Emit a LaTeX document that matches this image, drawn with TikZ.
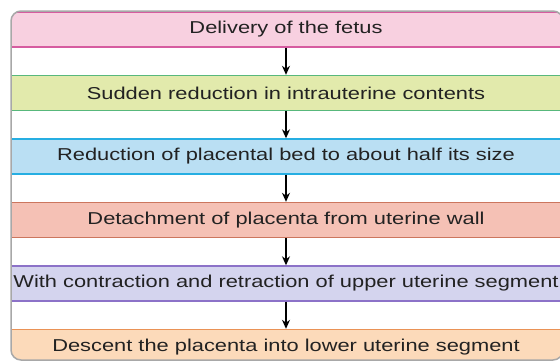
\documentclass[tikz,border=0pt]{standalone}
\usepackage{fontspec}
\setmainfont[FakeStretch=1.27]{Liberation Sans}
\usepackage{tikz}
\usetikzlibrary{arrows.meta,positioning}
\definecolor{framegrey}{RGB}{168,168,168}
\definecolor{inkgrey}{RGB}{34,34,34}
\definecolor{pinkfill}{RGB}{248,208,224}\definecolor{pinkline}{RGB}{214,92,160}
\definecolor{greenfill}{RGB}{226,234,172}\definecolor{greenline}{RGB}{88,184,124}
\definecolor{bluefill}{RGB}{186,223,243}\definecolor{blueline}{RGB}{38,174,226}
\definecolor{redfill}{RGB}{245,193,181}\definecolor{redline}{RGB}{204,118,94}
\definecolor{purpfill}{RGB}{212,212,238}\definecolor{purpline}{RGB}{140,114,200}
\definecolor{orangefill}{RGB}{252,218,186}\definecolor{orangeline}{RGB}{234,146,86}

\begin{document}
\begin{tikzpicture}[x=1pt,y=-1pt,node distance=27.1pt,
  every node/.style={font=\fontsize{17.2}{19}\selectfont,text=inkgrey},
  band/.style={minimum width=600pt,minimum height=35pt,inner sep=0pt,line width=1.4pt},
  ar/.style={-{Stealth[length=9pt,width=8pt]},line width=1.3pt,draw=black}]
\useasboundingbox (0,0) rectangle (560,362);
\begin{scope}
\clip[rounded corners=10pt] (11,11) rectangle (563,360);
\node[band,draw=pinkline,fill=pinkfill] (deliv) at (286,29.5) {Delivery of the fetus};
\node[band,draw=greenline,fill=greenfill,below=of deliv] (redu) {Sudden reduction in intrauterine contents};
\node[band,draw=blueline,fill=bluefill,below=of redu] (bed) {Reduction of placental bed to about half its size};
\node[band,draw=redline,fill=redfill,below=of bed] (detach) {Detachment of placenta from uterine wall};
\node[band,draw=purpline,fill=purpfill,below=of detach] (contr) {With contraction and retraction of upper uterine segment};
\node[band,draw=orangeline,fill=orangefill,below=of contr] (desc) {Descent the placenta into lower uterine segment};
\end{scope}
\draw[framegrey,line width=1.5pt,rounded corners=10pt] (11,11) rectangle (563,360);
\draw[ar] (deliv)--(redu); \draw[ar] (redu)--(bed); \draw[ar] (bed)--(detach);
\draw[ar] (detach)--(contr); \draw[ar] (contr)--(desc);
\end{tikzpicture}
\end{document}
